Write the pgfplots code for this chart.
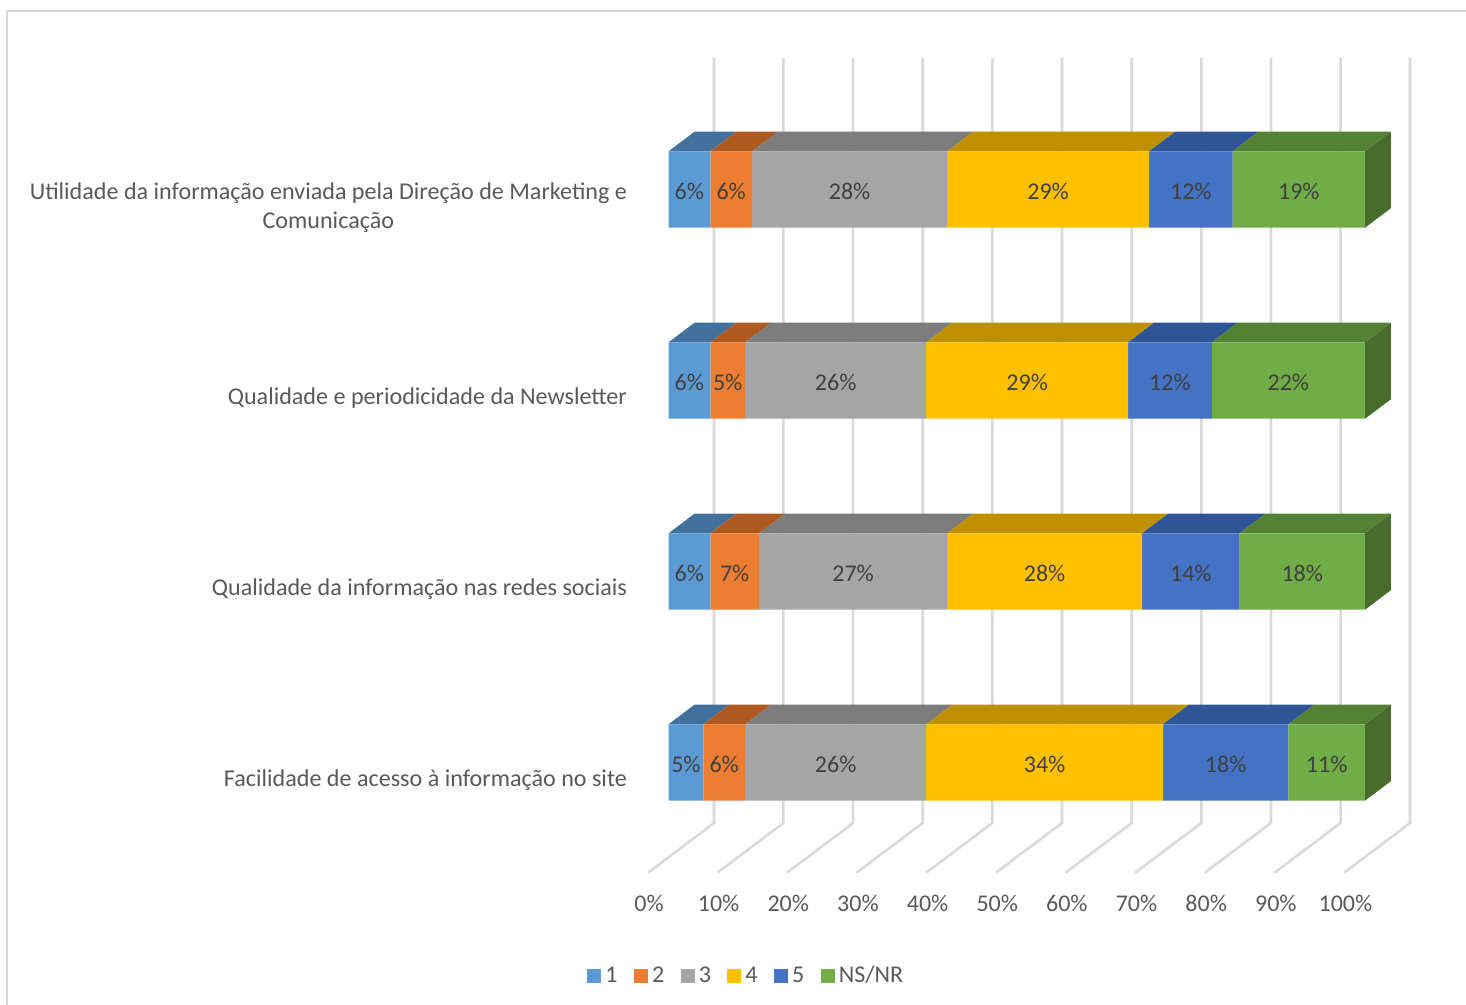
\documentclass[border=0pt]{standalone}
\usepackage{fontspec}
\setmainfont{Carlito}
\usepackage{pgfplots}
\pgfplotsset{compat=1.18}
\definecolor{gridc}{HTML}{D9D9D9}
\definecolor{txt}{HTML}{595959}
\definecolor{dl}{HTML}{404040}
\definecolor{sa}{HTML}{5B9BD5}\definecolor{sb}{HTML}{ED7D31}\definecolor{sc}{HTML}{A5A5A5}
\definecolor{sd}{HTML}{FFC000}\definecolor{se}{HTML}{4472C4}\definecolor{sf}{HTML}{70AD47}
\definecolor{ta}{HTML}{41719C}\definecolor{tb}{HTML}{AE5A21}\definecolor{tc}{HTML}{7C7C7C}
\definecolor{td}{HTML}{BF9000}\definecolor{te}{HTML}{2F5597}\definecolor{tf}{HTML}{548235}
\definecolor{rf}{HTML}{476C2B}
\newcommand{\topface}[7]{\addplot[fill=#1,draw=none,forget plot] coordinates {(#2,#6) (#3,#6) (#5,#7) (#4,#7)} -- cycle;}
\newcommand{\sideface}[4]{\addplot[fill=rf,draw=none,forget plot] coordinates {(100,#1) (100,#2) (103.73,#3) (103.73,#4)} -- cycle;}
\pgfplotsset{base/.style={
  scale only axis, width=392.5pt, height=425pt,
  xmin=-4.81, xmax=107.9, ymin=-0.6675, ymax=3.783,
  clip=false, axis line style={draw=none}, major tick length=0pt,
}}
\begin{document}
\begin{tikzpicture}
\path[use as bounding box] (0,0) rectangle (733pt,502.5pt);
\begin{axis}[base, at={(317.5pt,57.5pt)}, anchor=south west, xtick=\empty, ytick=\empty,
  unbounded coords=jump]
\addplot[gridc, line width=1pt, forget plot] coordinates {(-94.97,-1.27) (-94.97,3.934) (114.5,3.934)};
\addplot[gridc, line width=1.3pt, forget plot] coordinates {
(-2.94,-0.577) (6.53,-0.3168) (6.53,3.688) (nan,nan)
(7,-0.577) (16.5,-0.3168) (16.5,3.688) (nan,nan)
(17,-0.577) (26.5,-0.3168) (26.5,3.688) (nan,nan)
(27,-0.577) (36.5,-0.3168) (36.5,3.688) (nan,nan)
(37,-0.577) (46.5,-0.3168) (46.5,3.688) (nan,nan)
(47,-0.577) (56.5,-0.3168) (56.5,3.688) (nan,nan)
(57,-0.577) (66.5,-0.3168) (66.5,3.688) (nan,nan)
(67,-0.577) (76.5,-0.3168) (76.5,3.688) (nan,nan)
(77,-0.577) (86.5,-0.3168) (86.5,3.688) (nan,nan)
(87,-0.577) (96.5,-0.3168) (96.5,3.688) (nan,nan)
(97,-0.577) (106.46,-0.3168) (106.46,3.688)
};
% row 3
\topface{ta}{0}{6}{3.73}{9.73}{3.2}{3.3026}
\topface{tb}{6}{12}{9.73}{15.73}{3.2}{3.3026}
\topface{tc}{12}{40}{15.73}{43.73}{3.2}{3.3026}
\topface{td}{40}{69}{43.73}{72.73}{3.2}{3.3026}
\topface{te}{69}{81}{72.73}{84.73}{3.2}{3.3026}
\topface{tf}{81}{100}{84.73}{103.73}{3.2}{3.3026}
\sideface{2.8}{3.2}{3.3026}{2.9026}
% row 2
\topface{ta}{0}{6}{3.73}{9.73}{2.2}{2.3026}
\topface{tb}{6}{11}{9.73}{14.73}{2.2}{2.3026}
\topface{tc}{11}{37}{14.73}{40.73}{2.2}{2.3026}
\topface{td}{37}{66}{40.73}{69.73}{2.2}{2.3026}
\topface{te}{66}{78}{69.73}{81.73}{2.2}{2.3026}
\topface{tf}{78}{100}{81.73}{103.73}{2.2}{2.3026}
\sideface{1.8}{2.2}{2.3026}{1.9026}
% row 1
\topface{ta}{0}{6}{3.73}{9.73}{1.2}{1.3026}
\topface{tb}{6}{13}{9.73}{16.73}{1.2}{1.3026}
\topface{tc}{13}{40}{16.73}{43.73}{1.2}{1.3026}
\topface{td}{40}{68}{43.73}{71.73}{1.2}{1.3026}
\topface{te}{68}{82}{71.73}{85.73}{1.2}{1.3026}
\topface{tf}{82}{100}{85.73}{103.73}{1.2}{1.3026}
\sideface{0.8}{1.2}{1.3026}{0.9026}
% row 0
\topface{ta}{0}{5}{3.73}{8.73}{0.2}{0.3026}
\topface{tb}{5}{11}{8.73}{14.73}{0.2}{0.3026}
\topface{tc}{11}{37}{14.73}{40.73}{0.2}{0.3026}
\topface{td}{37}{71}{40.73}{74.73}{0.2}{0.3026}
\topface{te}{71}{89}{74.73}{92.73}{0.2}{0.3026}
\topface{tf}{89}{100}{92.73}{103.73}{0.2}{0.3026}
\sideface{-0.2}{0.2}{0.3026}{-0.0974}
\end{axis}
\begin{axis}[base, at={(317.5pt,57.5pt)}, anchor=south west,
  xbar stacked, bar width=38.2pt,
  xtick={-2.8,7.2,17.2,27.2,37.2,47.2,57.2,67.2,77.2,87.2,97.2},
  xticklabels={0\%,10\%,20\%,30\%,40\%,50\%,60\%,70\%,80\%,90\%,100\%},
  ytick={-0.0785,0.9215,1.9215,2.9215},
  yticklabels={Facilidade de acesso à informação no site,
    Qualidade da informação nas redes sociais,
    Qualidade e periodicidade da Newsletter,
    {Utilidade da informação enviada pela Direção de Marketing e\\Comunicação}},
  yticklabel style={align=center, font=\fontsize{12.05}{14.5}\selectfont, text=txt, yshift=-1.5pt, xshift=-0.5pt},
  xticklabel style={font=\fontsize{12}{14}\selectfont, text=txt, yshift=1pt},
  legend columns=-1,
  legend style={draw=none, fill=none, at={(0.143,-0.101)}, anchor=center,
    font=\fontsize{12}{14}\selectfont, text=txt, /tikz/every even column/.append style={column sep=6.25pt}},
  legend image code/.code={\fill[#1] (0pt,-3.5pt) rectangle (7pt,3.5pt);},
]
\addplot[fill=sa,draw=none] coordinates {(5,0) (6,1) (6,2) (6,3)};
\addplot[fill=sb,draw=none] coordinates {(6,0) (7,1) (5,2) (6,3)};
\addplot[fill=sc,draw=none] coordinates {(26,0) (27,1) (26,2) (28,3)};
\addplot[fill=sd,draw=none] coordinates {(34,0) (28,1) (29,2) (29,3)};
\addplot[fill=se,draw=none] coordinates {(18,0) (14,1) (12,2) (12,3)};
\addplot[fill=sf,draw=none] coordinates {(11,0) (18,1) (22,2) (19,3)};
\legend{1,2,3,4,5,NS/NR}
\end{axis}
\begin{axis}[base, at={(317.5pt,57.5pt)}, anchor=south west, xtick=\empty, ytick=\empty,
  /pgf/number format/assume math mode=true]
\addplot[only marks, mark=none, point meta=explicit,
  nodes near coords={\pgfmathprintnumber{\pgfplotspointmeta}\%},
  every node near coord/.append style={anchor=center, font=\fontsize{12}{14}\selectfont, text=dl, yshift=-1pt}]
  table[x=x, y=y, meta=v] {
x y v
3 3 6
9 3 6
26 3 28
54.5 3 29
75 3 12
90.5 3 19
3 2 6
8.5 2 5
24 2 26
51.5 2 29
72 2 12
89 2 22
3 1 6
9.5 1 7
26.5 1 27
54 1 28
75 1 14
91 1 18
2.5 0 5
8 0 6
24 0 26
54 0 34
80 0 18
94.5 0 11
};
\end{axis}
\end{tikzpicture}
\end{document}
